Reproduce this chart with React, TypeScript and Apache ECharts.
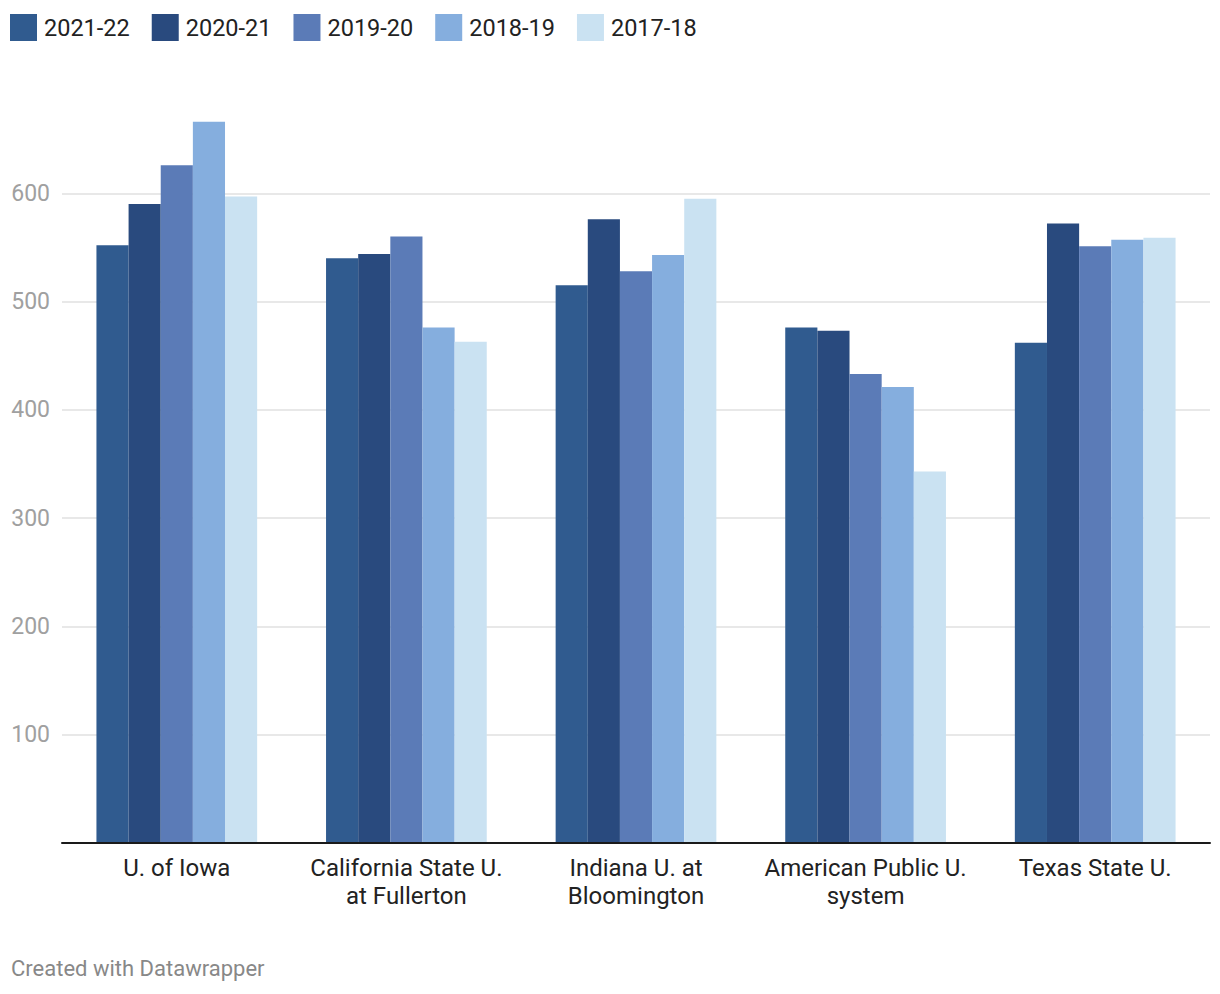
import React, { useEffect, useRef } from "react";
import * as echarts from "echarts";

const categories = [
  "U. of Iowa",
  "California State U.\nat Fullerton",
  "Indiana U. at\nBloomington",
  "American Public U.\nsystem",
  "Texas State U.",
];

const seriesNames = ["2021-22", "2020-21", "2019-20", "2018-19", "2017-18"];
const v2021_22 = [552, 540, 515, 476, 462];
const v2020_21 = [590, 544, 576, 473, 572];
const v2019_20 = [626, 560, 528, 433, 551];
const v2018_19 = [666, 476, 543, 421, 557];
const v2017_18 = [597, 463, 595, 343, 559];
const seriesValues = [v2021_22, v2020_21, v2019_20, v2018_19, v2017_18];
const colors = ["#305b8f", "#294a7e", "#5b7bb7", "#85aede", "#cae2f2"];
const gridTicks = [100, 200, 300, 400, 500, 600];

export default function App() {
  const ref = useRef<HTMLDivElement>(null);
  useEffect(() => {
    if (!ref.current) return;
    const chart = echarts.init(ref.current, null, { renderer: "svg" });
    const font = "Roboto";
    const series: any[] = seriesNames.map((name, i) => ({
      name,
      type: "bar",
      data: seriesValues[i],
      itemStyle: { color: colors[i] },
      barGap: "0%",
      barCategoryGap: "30%",
      z: 3,
      ...(i === 0
        ? {
            markLine: {
              silent: true,
              symbol: ["none", "none"],
              label: { show: false },
              lineStyle: { color: "#e8e8e8", width: 2, type: "solid" },
              data: gridTicks.map((t) => ({ yAxis: t })),
              z: 1,
            },
          }
        : {}),
    }));
    chart.setOption({
      animation: false,
      textStyle: { fontFamily: font },
      color: colors,
      legend: {
        left: 10,
        top: 14,
        padding: 0,
        itemWidth: 27,
        itemHeight: 27,
        itemGap: 22,
        icon: "rect",
        textStyle: { fontSize: 23.5, color: "#222", fontFamily: font, padding: [0, 0, 0, 2] },
        data: seriesNames,
      },
      grid: { left: 62, right: 10, top: 85, bottom: 151, containLabel: false },
      xAxis: {
        type: "category",
        data: categories,
        axisLine: { show: true, lineStyle: { color: "#1a1a1a", width: 2 } },
        axisTick: { show: false },
        axisLabel: {
          fontSize: 24,
          color: "#222",
          lineHeight: 28,
          margin: 11,
          fontFamily: font,
          interval: 0,
        },
        z: 5,
      },
      yAxis: {
        type: "value",
        min: 0,
        max: 700,
        interval: 100,
        axisLine: { show: false },
        axisTick: { show: false },
        splitLine: { show: false },
        axisLabel: {
          fontSize: 23,
          color: "#a0a0a0",
          margin: 12,
          fontFamily: font,
          showMinLabel: false,
          showMaxLabel: false,
        },
      },
      graphic: [
        {
          type: "text",
          left: 11,
          top: 957,
          style: {
            text: "Created with Datawrapper",
            fontSize: 22,
            fontFamily: font,
            fill: "#888",
          },
        },
      ],
      series,
    });
    return () => chart.dispose();
  }, []);
  return (
    <div
      ref={ref}
      style={{ position: "absolute", left: 0, top: 0, width: 1220, height: 994, background: "#fff" }}
    />
  );
}
